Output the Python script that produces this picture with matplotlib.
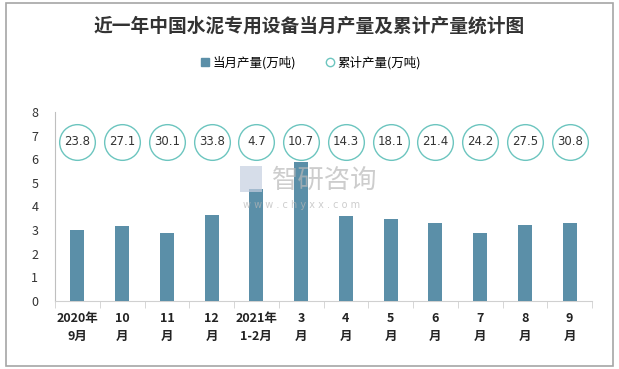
import matplotlib
matplotlib.use("Agg")
import matplotlib.pyplot as plt
from matplotlib.lines import Line2D
from matplotlib.patches import Rectangle
import numpy as np

plt.rcParams['font.family'] = ['Noto Sans CJK SC', 'DejaVu Sans']

# data
months = ['2020年\n9月', '10\n月', '11\n月', '12\n月', '2021年\n1-2月', '3\n月',
          '4\n月', '5\n月', '6\n月', '7\n月', '8\n月', '9\n月']
monthly = [3.0, 3.18, 2.88, 3.64, 4.72, 5.9, 3.6, 3.47, 3.3, 2.88, 3.22, 3.3]
cumulative = [23.8, 27.1, 30.1, 33.8, 4.7, 10.7, 14.3, 18.1, 21.4, 24.2, 27.5, 30.8]
circle_level = 6.75  # cumulative values are shown as labelled circles on a fixed row

bar_color = '#5b8fa8'
circle_color = '#6cc5bf'

fig = plt.figure(figsize=(6.19, 3.69), dpi=100)
fig.patches.append(Rectangle((0.009, 0.008), 0.982, 0.984, transform=fig.transFigure,
                             fill=False, edgecolor='#a6a6a6', linewidth=1.2))
ax = fig.add_axes([0.0889, 0.1843, 0.8675, 0.5122])

x = np.arange(len(months))
ax.bar(x, monthly, width=0.31, color=bar_color, zorder=3)
ax.scatter(x, [circle_level] * len(x), s=660, facecolor='white',
           edgecolor=circle_color, linewidth=1.0, zorder=4)
for xi, v in zip(x, cumulative):
    ax.text(xi, circle_level, f'{v}', ha='center', va='center',
            fontsize=8.5, color='#333333', family='DejaVu Sans', zorder=5)

ax.set_xlim(-0.5, len(months) - 0.5)
ax.set_ylim(0, 8)
ax.set_yticks(range(0, 9))
ax.tick_params(axis='y', length=0, pad=12, labelsize=9, labelcolor='#333333')
ax.set_xticks(x)
ax.set_xticklabels(months, fontsize=9, fontweight='bold', color='#222222', linespacing=1.5)
ax.set_xticks(np.arange(-0.5, len(months)), minor=True)
ax.tick_params(axis='x', which='major', length=0, pad=8)
ax.tick_params(axis='x', which='minor', length=5, color='#d0d0d0', direction='out')

for side in ['top', 'right']:
    ax.spines[side].set_visible(False)
ax.spines['left'].set_color('#bfbfbf')
ax.spines['bottom'].set_color('#d0d0d0')

# watermark
fig.text(0.44, 0.51, '智研咨询', fontsize=19, color='#b8b8b8', alpha=0.7,
         ha='left', va='center', zorder=1)
fig.text(0.392, 0.445, 'w w w . c h y x x . c o m', fontsize=7, color='#b8b8b8',
         alpha=0.7, ha='left', va='center', family='DejaVu Sans', zorder=1)
fig.patches.append(Rectangle((0.388, 0.48), 0.035, 0.07, transform=fig.transFigure,
                             facecolor='#c5cfe0', edgecolor='none', alpha=0.7, zorder=1))

fig.text(0.5, 0.93, '近一年中国水泥专用设备当月产量及累计产量统计图',
         ha='center', va='center', fontsize=13.5, fontweight='bold', color='#333333')

handles = [Line2D([], [], marker='s', linestyle='none', markersize=6,
                  markerfacecolor=bar_color, markeredgecolor=bar_color),
           Line2D([], [], marker='o', linestyle='none', markersize=6,
                  markerfacecolor='white', markeredgecolor=circle_color)]
fig.legend(handles, ['当月产量(万吨)', '累计产量(万吨)'], loc='center',
           bbox_to_anchor=(0.5, 0.83), ncol=2, frameon=False, fontsize=9,
           handletextpad=0.1, columnspacing=2.2, handlelength=1.0)

fig.savefig('out.png', dpi=100)
